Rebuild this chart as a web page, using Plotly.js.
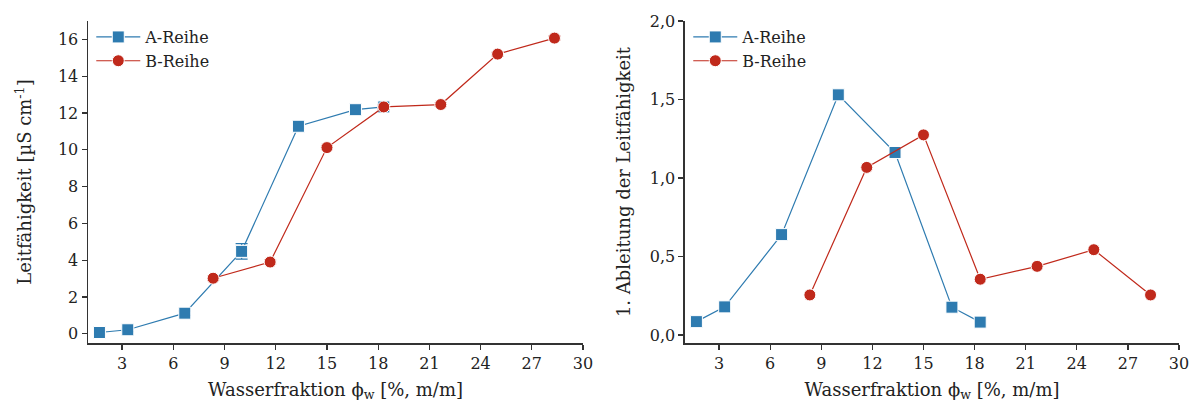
<!DOCTYPE html>
<html>
<head>
<meta charset="utf-8">
<script src="https://cdn.plot.ly/plotly-3.0.1.min.js"></script>
<style>html,body{margin:0;padding:0;background:#fff;}#chart{width:1198px;height:408px;}</style>
</head>
<body>
<div id="chart"></div>
<script>
// Left panel: conductivity
const xA = [1.67, 3.33, 6.67, 10.0, 13.33, 16.67, 18.33];
const condA = [0.07, 0.22, 1.12, 4.48, 11.28, 12.18, 12.33];
const condAErr = [0.08, 0.1, 0.12, 0.42, 0.12, 0.1, 0.1];
const xB = [8.33, 11.67, 15.0, 18.33, 21.67, 25.0, 28.33];
const condB = [3.02, 3.90, 10.12, 12.33, 12.46, 15.2, 16.07];
const condBErr = [0.1, 0.1, 0.1, 0.1, 0.1, 0.1, 0.1];
// Right panel: first derivative
const derivA = [0.086, 0.18, 0.64, 1.53, 1.163, 0.178, 0.083];
const derivB = [0.256, 1.068, 1.275, 0.356, 0.438, 0.544, 0.256];
const xTicks = [3, 6, 9, 12, 15, 18, 21, 24, 27, 30];
const nameA = 'A-Reihe', nameB = 'B-Reihe';

const blue = '#2e7bb0', red = '#c0291b';
const font = 'DejaVu Serif, serif';

function tr(x, y, err, name, color, sym, xa, ya, leg) {
  const t = {
    x: x, y: y, name: name, type: 'scatter', mode: 'lines+markers',
    xaxis: xa, yaxis: ya, legend: leg,
    line: {color: color, width: 1.2},
    marker: {color: color, symbol: sym, size: 12, line: {color: '#ffffff', width: 1}}
  };
  if (err) t.error_y = {type: 'data', array: err, visible: true, color: color, thickness: 1.3, width: 6};
  return t;
}

const data = [
  tr(xA, condA, condAErr, nameA, blue, 'square', 'x', 'y', 'legend'),
  tr(xB, condB, condBErr, nameB, red, 'circle', 'x', 'y', 'legend'),
  tr(xA, derivA, null, nameA, blue, 'square', 'x2', 'y2', 'legend2'),
  tr(xB, derivB, null, nameB, red, 'circle', 'x2', 'y2', 'legend2')
];

const axisCommon = {
  showline: true, linecolor: '#333', linewidth: 1.5, ticks: 'outside', ticklen: 5,
  tickwidth: 1.3, tickcolor: '#333', showgrid: false, zeroline: false,
  tickfont: {family: font, size: 16, color: '#222'}
};
const xTitle = {text: 'Wasserfraktion ϕ<sub>w</sub> [%, m/m]', font: {family: font, size: 18, color: '#222'}, standoff: 11};

const layout = {
  width: 1198, height: 408,
  margin: {l: 88, r: 19, t: 21, b: 65},
  paper_bgcolor: '#fff', plot_bgcolor: '#fff',
  separators: ', ',
  showlegend: true,
  font: {family: font, color: '#222'},
  xaxis: Object.assign({}, axisCommon, {domain: [0, 0.4537], range: [1, 30], tickvals: xTicks, title: xTitle, anchor: 'y'}),
  yaxis: Object.assign({}, axisCommon, {domain: [0, 1], range: [-0.5, 17], dtick: 2, tick0: 0,
    title: {text: 'Leitfähigkeit [µS cm<sup>-1</sup>]', font: {family: font, size: 18, color: '#222'}, standoff: 21}, anchor: 'x'}),
  xaxis2: Object.assign({}, axisCommon, {domain: [0.5472, 1], range: [1, 30], tickvals: xTicks, title: xTitle, anchor: 'y2'}),
  yaxis2: Object.assign({}, axisCommon, {domain: [0, 1], range: [-0.05, 2.0], dtick: 0.5, tick0: 0, tickformat: '.1f',
    title: {text: '1. Ableitung der Leitfähigkeit', font: {family: font, size: 18, color: '#222'}, standoff: 14}, anchor: 'x2'}),
  legend: {x: 0.003, y: 1.003, xanchor: 'left', yanchor: 'top', bgcolor: 'rgba(0,0,0,0)',
    font: {family: font, size: 16, color: '#222'}, tracegroupgap: 0, itemwidth: 44},
  legend2: {x: 0.5502, y: 1.003, xanchor: 'left', yanchor: 'top', bgcolor: 'rgba(0,0,0,0)',
    font: {family: font, size: 16, color: '#222'}, tracegroupgap: 0, itemwidth: 44}
};

Plotly.newPlot('chart', data, layout, {displayModeBar: false, staticPlot: true});
</script>
</body>
</html>
